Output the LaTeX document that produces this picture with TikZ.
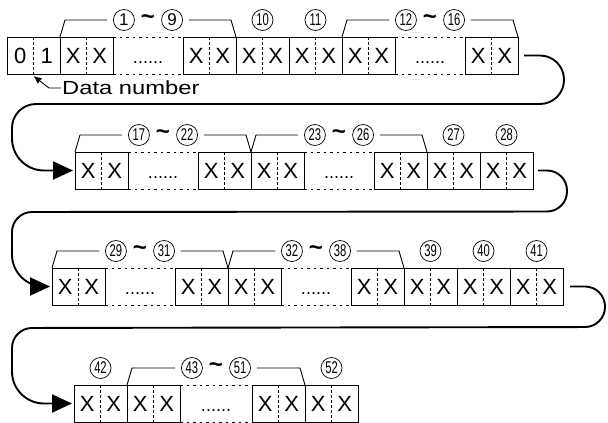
\documentclass[tikz,border=0pt]{standalone}
\usepackage{fontspec}
\setmainfont{Liberation Sans}
\usepackage{graphicx}
\usetikzlibrary{arrows.meta,calc,positioning}

% circled numbers: two digits are squeezed
\newcommand{\nm}[1]{\ifnum#1>9 \scalebox{.66}[1]{#1}\else#1\fi}
\newcommand{\xx}{\makebox[26.5pt]{X}\makebox[26.5pt]{X}}
\newcommand{\sixdots}{\vphantom{X}{\fontsize{18}{18}\selectfont......}}
% bracket over a run of cells: name, first cell, last cell, first no., last no.
\newcommand{\spanlabel}[5]{%
  \node[tilde] (#1) at ($(#2.north west)!.5!(#3.north east)+(0,-17)$) {\textasciitilde};
  \node[cnum, left=6pt of #1] (#1l) {\nm{#4}};
  \node[cnum, right=6pt of #1] (#1r) {\nm{#5}};
  \draw[bracket] (#2.north west) -- ++(5,-17) -- ($(#1l.west)+(-6,0)$);
  \draw[bracket] ($(#1r.east)+(6,0)$) -- ($(#3.north east)+(-5,-17)$) -- (#3.north east);
}

\begin{document}
\begin{tikzpicture}[x=1pt,y=-1pt,
  cell/.style={draw, line width=1pt, minimum width=53pt, minimum height=37pt,
    inner sep=0pt, outer sep=0pt, font=\fontsize{22}{22}\selectfont,
    path picture={\draw[line width=0.8pt, dash pattern=on 2.5pt off 2.5pt]
      (path picture bounding box.north) -- (path picture bounding box.south);}},
  dotgap/.style={minimum width=70pt, minimum height=37pt, inner sep=0pt,
    outer sep=0pt, font=\fontsize{22}{22}\selectfont},
  dotline/.style={line width=0.9pt, dash pattern=on 2.5pt off 4pt},
  cnum/.style={circle, draw, line width=0.7pt, minimum size=21pt, inner sep=0pt,
    fill=white, font=\fontsize{17}{17}\selectfont},
  tilde/.style={inner sep=0pt, font=\fontsize{24}{24}\selectfont\bfseries},
  bracket/.style={line width=0.9pt},
  link/.style={line width=1.9pt, -{Triangle[length=20pt,width=18pt]}, shorten >=2pt},
  pointer/.style={line width=0.9pt, -{Latex[length=8pt,width=7pt]}}]
\useasboundingbox (0,0) rectangle (608,423);

% row 1
\node[cell, anchor=north west] (A0) at (7,37) {\makebox[26.5pt]{0}\makebox[26.5pt]{1}};
\node[cell, right=0pt of A0] (A1) {\xx};
\node[dotgap, right=0pt of A1] (Ag1) {\sixdots};
\node[cell, right=0pt of Ag1] (A2) {\xx};
\node[cell, right=0pt of A2] (A3) {\xx};
\node[cell, right=0pt of A3] (A4) {\xx};
\node[cell, right=0pt of A4] (A5) {\xx};
\node[dotgap, right=0pt of A5] (Ag2) {\sixdots};
\node[cell, right=0pt of Ag2] (A6) {\xx};

% row 2
\node[cell, anchor=north west] (B1) at (75,152) {\xx};
\node[dotgap, right=0pt of B1] (Bg1) {\sixdots};
\node[cell, right=0pt of Bg1] (B2) {\xx};
\node[cell, right=0pt of B2] (B3) {\xx};
\node[dotgap, right=0pt of B3] (Bg2) {\sixdots};
\node[cell, right=0pt of Bg2] (B4) {\xx};
\node[cell, right=0pt of B4] (B5) {\xx};
\node[cell, right=0pt of B5] (B6) {\xx};

% row 3
\node[cell, anchor=north west] (C1) at (52,268) {\xx};
\node[dotgap, right=0pt of C1] (Cg1) {\sixdots};
\node[cell, right=0pt of Cg1] (C2) {\xx};
\node[cell, right=0pt of C2] (C3) {\xx};
\node[dotgap, right=0pt of C3] (Cg2) {\sixdots};
\node[cell, right=0pt of Cg2] (C4) {\xx};
\node[cell, right=0pt of C4] (C5) {\xx};
\node[cell, right=0pt of C5] (C6) {\xx};
\node[cell, right=0pt of C6] (C7) {\xx};

% row 4
\node[cell, anchor=north west] (D1) at (74,385) {\xx};
\node[cell, right=0pt of D1] (D2) {\xx};
\node[dotgap, minimum width=72pt, right=0pt of D2] (Dg1) {\sixdots};
\node[cell, right=0pt of Dg1] (D3) {\xx};
\node[cell, right=0pt of D3] (D4) {\xx};

% dotted edges of the skipped runs
\foreach \a/\b in {A1/A2,A5/A6,B1/B2,B3/B4,C1/C2,C3/C4,D2/D3} {
  \draw[dotline] (\a.north east) -- (\b.north west);
  \draw[dotline] (\a.south east) -- (\b.south west);
}

% numbers
\spanlabel{s1}{A1}{A2}{1}{9}
\node[cnum] (n10) at ($(A3.north)+(0,-17)$) {\nm{10}};
\node[cnum] (n11) at ($(A4.north)+(0,-17)$) {\nm{11}};
\spanlabel{s2}{A5}{A6}{12}{16}
\spanlabel{s3}{B1}{B2}{17}{22}
\spanlabel{s4}{B3}{B4}{23}{26}
\node[cnum] (n27) at ($(B5.north)+(0,-17)$) {\nm{27}};
\node[cnum] (n28) at ($(B6.north)+(0,-17)$) {\nm{28}};
\spanlabel{s5}{C1}{C2}{29}{31}
\spanlabel{s6}{C3}{C4}{32}{38}
\node[cnum] (n39) at ($(C5.north)+(0,-17)$) {\nm{39}};
\node[cnum] (n40) at ($(C6.north)+(0,-17)$) {\nm{40}};
\node[cnum] (n41) at ($(C7.north)+(0,-17)$) {\nm{41}};
\node[cnum] (n42) at ($(D1.north)+(0,-17)$) {\nm{42}};
\spanlabel{s7}{D2}{D3}{43}{51}
\node[cnum] (n52) at ($(D4.north)+(0,-17)$) {\nm{52}};

% data number
\node[anchor=west, inner sep=1pt, font=\fontsize{19}{19}\selectfont] (dn) at (61,88) {\scalebox{1.25}[1]{Data number}};
\draw[pointer] (dn.west) -- ++(-12,0) -- ($(A0.south)+(0,2)$);

% wrap to the next row
\draw[link] ($(A6.east)+(6,0)$) [rounded corners=24pt] -- ++(40,0) -- ++(0,48.5) -- (12,104) [rounded corners=32pt] |- (B1.west);
\draw[link] ($(B6.east)+(5,0)$) [rounded corners=20pt] -- ++(29,0) -- ++(0,41) -- (12,212) [rounded corners=32pt] |- (C1.west);
\draw[link] ($(C7.east)+(7,0)$) [rounded corners=20pt] -- ++(35,0) -- ++(0,40.5) -- (12,328) [rounded corners=32pt] |- (D1.west);
\end{tikzpicture}
\end{document}
